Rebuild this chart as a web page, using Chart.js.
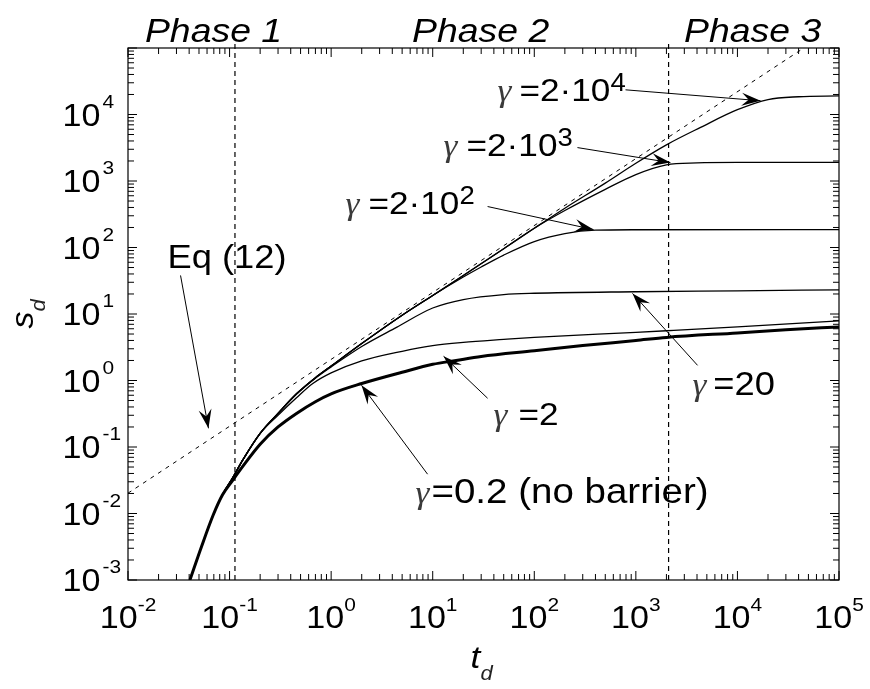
<!DOCTYPE html>
<html>
<head>
<meta charset="utf-8">
<script src="https://cdn.jsdelivr.net/npm/chart.js@4.4.1/dist/chart.umd.min.js"></script>
<style>
  html, body { margin: 0; padding: 0; background: #fff; }
  #wrap { width: 870px; height: 689px; position: relative; }
</style>
</head>
<body>
<div id="wrap"><canvas id="c"></canvas></div>
<script>
// ---- data: dimensionless time t_d and displacement s_d for each barrier strength ----
const g02T = [0.0407, 0.053, 0.069, 0.085, 0.108, 0.136, 0.2, 0.3, 0.456, 0.7, 1, 2, 5, 10, 17, 30, 100, 300, 1000, 2000, 10000, 30000, 100000];
const g02S = [0.001, 0.0032, 0.0095, 0.019, 0.032, 0.052, 0.11, 0.2, 0.32, 0.48, 0.63, 0.9, 1.33, 1.75, 2.0, 2.3, 2.8, 3.35, 4.0, 4.45, 5.2, 5.8, 6.4];

const g2T = [0.0407, 0.053, 0.069, 0.085, 0.108, 0.136, 0.2, 0.3, 0.456, 0.66, 1, 2, 5, 10, 20, 50, 100, 1000, 2000, 10000, 100000];
const g2S = [0.001, 0.0032, 0.0095, 0.019, 0.035, 0.065, 0.16, 0.3, 0.55, 0.9, 1.3, 1.97, 2.75, 3.35, 3.75, 4.15, 4.45, 5.3, 5.6, 6.4, 7.9];

const g20T = [0.0407, 0.053, 0.069, 0.085, 0.108, 0.136, 0.2, 0.3, 0.456, 0.7, 1, 2, 4.4, 10, 20, 50, 100, 1000, 10000, 100000];
const g20S = [0.001, 0.0032, 0.0095, 0.019, 0.035, 0.065, 0.16, 0.32, 0.62, 1.08, 1.6, 3.25, 6.3, 12.3, 16.5, 19.6, 20.5, 21.6, 22.3, 23.1];

const g200T = [0.0407, 0.053, 0.069, 0.085, 0.108, 0.136, 0.2, 0.3, 0.456, 0.7, 1, 2, 5, 10, 20, 30, 50, 100, 200, 400, 1000, 100000];
const g200S = [0.001, 0.0032, 0.0095, 0.019, 0.035, 0.065, 0.16, 0.32, 0.63, 1.1, 1.65, 3.6, 9.6, 19, 36, 51, 77, 123, 162, 182, 185, 186];

const g2000T = [0.0407, 0.053, 0.069, 0.085, 0.108, 0.136, 0.2, 0.3, 0.456, 0.7, 1, 2, 5, 10, 20, 50, 100, 200, 500, 1000, 2000, 4000, 10000, 100000];
const g2000S = [0.001, 0.0032, 0.0095, 0.019, 0.035, 0.065, 0.16, 0.32, 0.63, 1.1, 1.65, 3.6, 9.6, 19, 38, 96, 195, 360, 750, 1250, 1750, 1870, 1900, 1900];

const g20000T = [0.0407, 0.053, 0.069, 0.085, 0.108, 0.136, 0.2, 0.3, 0.456, 0.7, 1, 2, 5, 10, 20, 50, 100, 200, 500, 1000, 2000, 4340, 10000, 20000, 40000, 100000];
const g20000S = [0.001, 0.0032, 0.0095, 0.019, 0.035, 0.065, 0.16, 0.32, 0.63, 1.1, 1.65, 3.6, 9.6, 19, 38, 96, 195, 390, 930, 1850, 3500, 6400, 11800, 16800, 18500, 19000];

// asymptote of Eq (12)
const eqT = [0.01, 45000];
const eqS = [0.0202, 100000];

// phase boundaries
const phaseBounds = [0.113, 2100];
const phaseNames = ['Phase 1', 'Phase 2', 'Phase 3'];
const phaseCentres = [0.0695, 29.6, 14100];

// decade tick exponents
const xTickExps = [-2, -1, 0, 1, 2, 3, 4, 5];
const yTickExps = [-3, -2, -1, 0, 1, 2, 3, 4];

const pts = (T, S) => T.map((t, i) => ({ x: t, y: S[i] }));

const FONT = "'Liberation Sans', Arial, sans-serif";
const SX = 1.1;   // horizontal stretch for all lettering

function measure(ctx, str, font) {
  ctx.save(); ctx.font = font;
  const w = ctx.measureText(str).width * SX;
  ctx.restore(); return w;
}
function drawStr(ctx, str, x, y, font, color) {
  ctx.save();
  ctx.font = font; ctx.fillStyle = color || '#000';
  ctx.textAlign = 'left'; ctx.textBaseline = 'alphabetic';
  ctx.translate(x, y); ctx.scale(SX, 1);
  ctx.fillText(str, 0, 0);
  ctx.restore();
  return measure(ctx, str, font);
}
function drawRich(ctx, parts, x, y, align) {
  const total = parts.reduce((a, p) => a + measure(ctx, p.text, p.font) + (p.gap || 0), 0);
  let cx = align === 'center' ? x - total / 2 : align === 'right' ? x - total : x;
  for (const p of parts) {
    cx += drawStr(ctx, p.text, cx, y - (p.rise || 0), p.font, p.color) + (p.gap || 0);
  }
}

const gam = gap => ({ text: 'γ', font: "italic 32px 'Liberation Serif', serif", color: '#3a3a3a', gap });
const T = (s, size) => ({ text: s, font: (size || 32) + 'px ' + FONT });
const SUP = s => ({ text: s, font: '25px ' + FONT, rise: 10 });

const labels = [
  { at: [43.5, 16100], parts: [gam(8), T('=2·10'), SUP('4')] },
  { at: [12.8, 2400], parts: [gam(9), T('=2·10'), SUP('3')] },
  { at: [1.385, 324], parts: [gam(9), T('=2·10'), SUP('2')] },
  { at: [3610, 0.60], parts: [gam(7), T('=20', 33)] },
  { at: [39.7, 0.212], parts: [gam(11), T('=2')] },
  { at: [6.78, 0.0143], parts: [gam(2), T('=0.2 (no barrier)', 35)] },
  { at: [0.0245, 48.4], parts: [T('Eq (12)', 33)] }
];

const arrows = [
  { from: [0.0329, 38], to: [0.062, 0.191] },
  { from: [791, 23500], to: [16900, 16100] },
  { from: [266, 3180], to: [2190, 1890] },
  { from: [34.7, 413], to: [383, 186] },
  { from: [4050, 1.69], to: [927, 20.4] },
  { from: [34.7, 0.541], to: [12.8, 2.31] },
  { from: [8.9, 0.039], to: [1.99, 0.848] }
];

function arrowHead(ctx, x0, y0, x1, y1) {
  const a = Math.atan2(y1 - y0, x1 - x0);
  const L = 19, W = 6.5, N = 12;
  const ux = Math.cos(a), uy = Math.sin(a), nx = -uy, ny = ux;
  ctx.beginPath();
  ctx.moveTo(x1, y1);
  ctx.lineTo(x1 - ux * L + nx * W, y1 - uy * L + ny * W);
  ctx.lineTo(x1 - ux * N, y1 - uy * N);
  ctx.lineTo(x1 - ux * L - nx * W, y1 - uy * L - ny * W);
  ctx.closePath();
  ctx.fill();
}

const axesDecor = {
  id: 'axesDecor',
  afterDatasetsDraw(chart) {
    const ctx = chart.ctx;
    const xs = chart.scales.x, ys = chart.scales.y;
    const { left, right, top, bottom } = chart.chartArea;
    const P = (t, s) => [xs.getPixelForValue(t), ys.getPixelForValue(s)];

    ctx.save();
    ctx.strokeStyle = '#000';
    ctx.lineWidth = 1.2;
    ctx.strokeRect(left, top, right - left, bottom - top);

    // ticks on all four sides
    const tick = (x0, y0, x1, y1) => { ctx.beginPath(); ctx.moveTo(x0, y0); ctx.lineTo(x1, y1); ctx.stroke(); };
    ctx.lineWidth = 1;
    for (let e = xTickExps[0]; e <= xTickExps[xTickExps.length - 1]; e++) {
      for (let k = 1; k <= 9; k++) {
        const v = k * Math.pow(10, e);
        if (v > xs.max * 1.0001) break;
        const x = xs.getPixelForValue(v);
        const len = k === 1 ? 9 : 6;
        tick(x, bottom, x, bottom - len);
        tick(x, top, x, top + len);
      }
    }
    for (let e = yTickExps[0]; e <= 5; e++) {
      for (let k = 1; k <= 9; k++) {
        const v = k * Math.pow(10, e);
        if (v > ys.max * 1.0001) break;
        const y = ys.getPixelForValue(v);
        const len = k === 1 ? 9 : 6;
        tick(left, y, left + len, y);
        tick(right, y, right - len, y);
      }
    }

    // decade labels
    const base = '31px ' + FONT, expo = '19px ' + FONT;
    for (const e of xTickExps) {
      const x = xs.getPixelForValue(Math.pow(10, e));
      drawRich(ctx, [{ text: '10', font: base }, { text: String(e), font: expo, rise: 17 }], x, bottom + 48, 'center');
    }
    for (const e of yTickExps) {
      const y = ys.getPixelForValue(Math.pow(10, e));
      const w = measure(ctx, '10', base);
      drawStr(ctx, '10', left - 27.5 - w, y + 11, base);
      drawStr(ctx, String(e), left - 25.5, y + 11 - 18, expo);
    }

    // phase names above the frame
    phaseNames.forEach((name, i) => {
      const x = xs.getPixelForValue(phaseCentres[i]);
      drawRich(ctx, [{ text: name, font: 'italic 34px ' + FONT }], x, top - 6, 'center');
    });

    // axis titles
    const tx = xs.getPixelForValue(23.5);
    drawStr(ctx, 't', tx, bottom + 88, 'italic 32px ' + FONT);
    drawStr(ctx, 'd', tx + 10, bottom + 100, 'italic 20px ' + FONT, '#222');

    ctx.save();
    ctx.translate(left - 95, ys.getPixelForValue(1) - 52);
    ctx.rotate(-Math.PI / 2);
    const sw = drawStr(ctx, 's', 0, 0, 'italic 31px ' + FONT);
    drawStr(ctx, 'd', sw, 12, 'italic 20px ' + FONT, '#222');
    ctx.restore();

    // annotation arrows
    ctx.strokeStyle = '#000'; ctx.fillStyle = '#000'; ctx.lineWidth = 1;
    for (const a of arrows) {
      const [x0, y0] = P(a.from[0], a.from[1]);
      const [x1, y1] = P(a.to[0], a.to[1]);
      ctx.beginPath(); ctx.moveTo(x0, y0); ctx.lineTo(x1, y1); ctx.stroke();
      arrowHead(ctx, x0, y0, x1, y1);
    }
    // annotation texts
    for (const l of labels) {
      const [x, y] = P(l.at[0], l.at[1]);
      drawRich(ctx, l.parts, x, y, 'left');
    }
    ctx.restore();
  }
};

const thin = (T_, S_) => ({
  data: pts(T_, S_), borderColor: '#000', borderWidth: 1.3,
  pointRadius: 0, cubicInterpolationMode: 'monotone', fill: false
});

new Chart(document.getElementById('c'), {
  type: 'line',
  data: {
    datasets: [
      { data: pts(eqT, eqS), borderColor: '#000', borderWidth: 1, borderDash: [4, 5], pointRadius: 0, fill: false },
      { data: [{ x: phaseBounds[0], y: 1e-3 }, { x: phaseBounds[0], y: 1.2e5 }], borderColor: '#000', borderWidth: 1.2,
        borderDash: [5, 4], pointRadius: 0, clip: { left: 0, top: 8, right: 0, bottom: 0 } },
      { data: [{ x: phaseBounds[1], y: 1e-3 }, { x: phaseBounds[1], y: 1.2e5 }], borderColor: '#000', borderWidth: 1.2,
        borderDash: [5, 4], pointRadius: 0, clip: { left: 0, top: 8, right: 0, bottom: 0 } },
      thin(g20000T, g20000S),
      thin(g2000T, g2000S),
      thin(g200T, g200S),
      thin(g20T, g20S),
      thin(g2T, g2S),
      { data: pts(g02T, g02S), borderColor: '#000', borderWidth: 3, pointRadius: 0,
        cubicInterpolationMode: 'monotone', fill: false }
    ]
  },
  options: {
    responsive: true,
    maintainAspectRatio: false,
    animation: false,
    events: [],
    layout: { padding: { left: 128, top: 48, right: 31, bottom: 109 } },
    plugins: { legend: { display: false }, tooltip: { enabled: false } },
    scales: {
      x: { type: 'logarithmic', display: false, min: 0.01, max: 1e5 },
      y: { type: 'logarithmic', display: false, min: 1e-3, max: 1e5 }
    }
  },
  plugins: [axesDecor]
});
</script>
</body>
</html>
